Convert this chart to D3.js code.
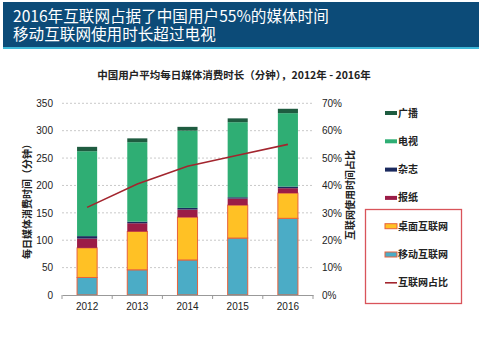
<!DOCTYPE html>
<html>
<head>
<meta charset="utf-8">
<script src="https://cdn.jsdelivr.net/npm/d3@7"></script>
<style>
  body { margin: 0; background: #fff; }
  svg { display: block; font-family: "Noto Sans CJK SC", "Liberation Sans", sans-serif; }
</style>
</head>
<body>
<svg class="chart"></svg>
<script>
// data (minutes per day)
const years = ['2012', '2013', '2014', '2015', '2016'];
const mobile = [32, 46, 64, 104, 140];
const desktop = [54, 70, 78, 60, 46];
const newspaper = [17, 15, 14, 12, 9];
const magazine = [4.5, 3, 3, 2.5, 3];
const tv = [155, 145, 141, 137, 134];
const radio = [8, 7, 7, 7, 8];
const netShare = [32, 40.5, 47, 51, 55];
const leftTicks = [0, 50, 100, 150, 200, 250, 300, 350];
const rightTicks = [0, 10, 20, 30, 40, 50, 60, 70];

const config = {
    width: 479, height: 337,
    plot: { left: 62, right: 313, top: 103.3, bottom: 295 }
};

const series = [
    { key: '移动互联网', values: mobile, fill: '#4BACC6', stroke: '#E8623C' },
    { key: '桌面互联网', values: desktop, fill: '#FFC125', stroke: '#E8623C' },
    { key: '报纸', values: newspaper, fill: '#9B1C47' },
    { key: '杂志', values: magazine, fill: '#1B2A5E' },
    { key: '电视', values: tv, fill: '#2FAE74' },
    { key: '广播', values: radio, fill: '#1E5C40' }
];

let svg = d3.select('.chart')
    .attr('width', config.width)
    .attr('height', config.height);

// header banner
svg.append('rect').attr('x', 3).attr('y', 2).attr('width', 476).attr('height', 45).attr('fill', '#0C4B78');
svg.append('rect').attr('x', 3).attr('y', 47).attr('width', 476).attr('height', 2).attr('fill', '#3FB9D9');
svg.append('text').attr('x', 13).attr('y', 22)
    .style('font-size', '15.6px').style('fill', '#fff')
    .text('2016年互联网占据了中国用户55%的媒体时间');
svg.append('text').attr('x', 13).attr('y', 40)
    .style('font-size', '15.6px').style('fill', '#fff')
    .text('移动互联网使用时长超过电视');

// chart title
svg.append('text')
    .attr('x', 234).attr('y', 79)
    .attr('text-anchor', 'middle')
    .style('font-size', '10.5px').style('font-weight', 'bold').style('fill', '#222')
    .text('中国用户平均每日媒体消费时长（分钟），2012年 - 2016年');

let x = d3.scaleBand()
    .domain(years)
    .range([config.plot.left, config.plot.right])
    .paddingInner(0.6).paddingOuter(0.3);

let y = d3.scaleLinear().domain([0, 350]).range([config.plot.bottom, config.plot.top]);
let y2 = d3.scaleLinear().domain([0, 70]).range([config.plot.bottom, config.plot.top]);

// gridlines
svg.append('g')
    .selectAll('line')
    .data(leftTicks.slice(1))
    .enter().append('line')
    .attr('x1', config.plot.left).attr('x2', config.plot.right)
    .attr('y1', d => y(d)).attr('y2', d => y(d))
    .style('stroke', '#bbb').style('stroke-dasharray', '2,2').style('stroke-width', 0.8);

// left axis
let yAxis = svg.append('g')
    .attr('transform', `translate(${config.plot.left},0)`)
    .call(d3.axisLeft(y).tickValues(leftTicks).tickSize(0).tickPadding(9));
yAxis.select('.domain').remove();
yAxis.selectAll('text').style('font-size', '10px').style('fill', '#222')
    .style('font-family', '"Liberation Sans", Arial, sans-serif');

// right axis
let y2Axis = svg.append('g')
    .attr('transform', `translate(${config.plot.right},0)`)
    .call(d3.axisRight(y2).tickValues(rightTicks).tickSize(0).tickPadding(9).tickFormat(d => d + '%'));
y2Axis.select('.domain').remove();
y2Axis.selectAll('text').style('font-size', '10px').style('fill', '#222')
    .style('font-family', '"Liberation Sans", Arial, sans-serif');

// stacked bars
let table = years.map((yr, i) => {
    let row = { year: yr };
    series.forEach(s => { row[s.key] = s.values[i]; });
    return row;
});
let stacked = d3.stack().keys(series.map(s => s.key))(table);

stacked.forEach((layer, li) => {
    let s = series[li];
    svg.append('g').selectAll('rect')
        .data(layer)
        .enter().append('rect')
        .attr('x', d => x(d.data.year))
        .attr('width', x.bandwidth())
        .attr('y', d => y(d[1]))
        .attr('height', d => y(d[0]) - y(d[1]))
        .style('fill', s.fill)
        .style('stroke', s.stroke || 'none')
        .style('stroke-width', s.stroke ? 1 : 0);
});

// x axis
let xAxis = svg.append('g')
    .attr('transform', `translate(0,${config.plot.bottom})`)
    .call(d3.axisBottom(x).tickSize(0).tickPadding(8));
xAxis.select('.domain').style('stroke', '#999');
xAxis.selectAll('text').style('font-size', '10px').style('fill', '#222')
    .style('font-family', '"Liberation Sans", Arial, sans-serif');
xAxis.selectAll('.sep')
    .data(d3.range(years.length + 1))
    .enter().append('line')
    .attr('x1', i => config.plot.left + i * x.step())
    .attr('x2', i => config.plot.left + i * x.step())
    .attr('y1', 0).attr('y2', 4)
    .style('stroke', '#999');

// internet share line
svg.append('path')
    .datum(netShare)
    .attr('d', d3.line().x((d, i) => x(years[i]) + x.bandwidth() / 2).y(d => y2(d)))
    .style('fill', 'none').style('stroke', '#A3252E').style('stroke-width', 1.6);

// axis titles
svg.append('text')
    .attr('transform', 'translate(31,199) rotate(-90)')
    .attr('text-anchor', 'middle')
    .style('font-size', '10px').style('font-weight', 'bold').style('fill', '#222')
    .text('每日媒体消费时间（分钟）');
svg.append('text')
    .attr('transform', 'translate(354,195) rotate(-90)')
    .attr('text-anchor', 'middle')
    .style('font-size', '10px').style('font-weight', 'bold').style('fill', '#222')
    .text('互联网使用时间占比');

// legend
let legendItems = [
    { key: '广播', fill: '#1E5C40', type: 'bar' },
    { key: '电视', fill: '#2FAE74', type: 'bar' },
    { key: '杂志', fill: '#1B2A5E', type: 'bar' },
    { key: '报纸', fill: '#9B1C47', type: 'bar' },
    { key: '桌面互联网', fill: '#FFC125', type: 'box' },
    { key: '移动互联网', fill: '#4BACC6', type: 'box' },
    { key: '互联网占比', fill: '#A3252E', type: 'line' }
];

svg.append('rect')
    .attr('x', 365.5).attr('y', 209.5).attr('width', 96).attr('height', 94)
    .style('fill', 'none').style('stroke', '#D9545A').style('stroke-width', 1.3);

let legend = svg.append('g').attr('transform', 'translate(385,113)');
let item = legend.selectAll('g')
    .data(legendItems)
    .enter().append('g')
    .attr('transform', (d, i) => `translate(0,${i * 28.3})`);

item.each(function(d) {
    let g = d3.select(this);
    if (d.type === 'bar') {
        g.append('rect').attr('x', 0).attr('y', -2).attr('width', 12).attr('height', 4).style('fill', d.fill);
    } else if (d.type === 'box') {
        g.append('rect').attr('x', 0).attr('y', -2.5).attr('width', 12).attr('height', 5)
            .style('fill', d.fill).style('stroke', '#E8623C').style('stroke-width', 1);
    } else {
        g.append('line').attr('x1', 0).attr('x2', 12).attr('y1', 0).attr('y2', 0)
            .style('stroke', d.fill).style('stroke-width', 1.6);
    }
});
item.append('text')
    .attr('x', 13).attr('y', 0).attr('dy', '0.35em')
    .style('font-size', '10px').style('font-weight', 'bold').style('fill', '#222')
    .text(d => d.key);
</script>
</body>
</html>
